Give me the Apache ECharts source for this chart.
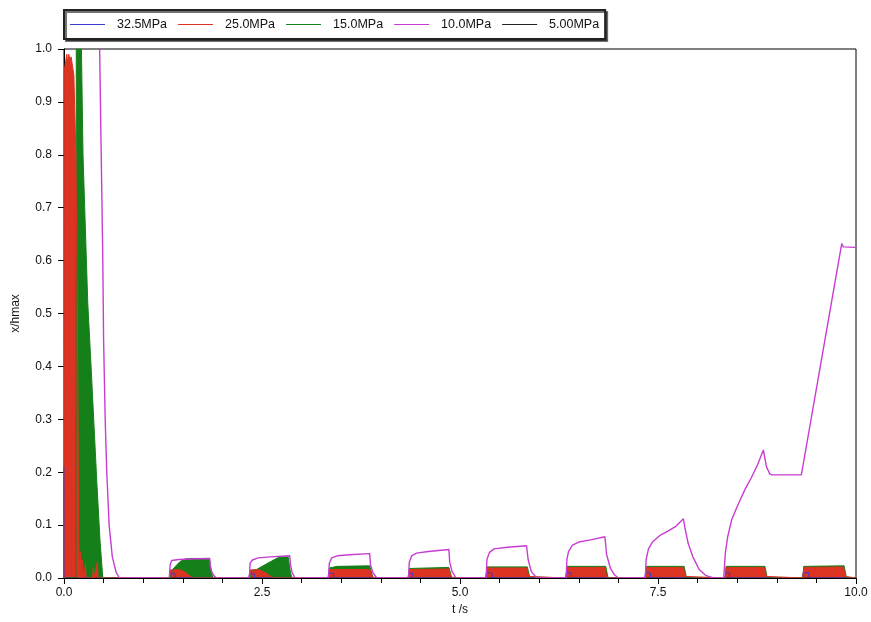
<!DOCTYPE html>
<html><head><meta charset="utf-8">
<script src="https://cdn.jsdelivr.net/npm/echarts@6/dist/echarts.min.js"></script>
<style>html,body{margin:0;padding:0;background:#fff}#c{width:871px;height:622px}</style>
</head><body><div id="c"></div>
<script>
// ---- data (t in s, value x/hmax) ----
const seriesNames = ['32.5MPa', '25.0MPa', '15.0MPa', '10.0MPa', '5.00MPa'];
const xLabelValues = [0, 2.5, 5, 7.5, 10];
const yLabelValues = [0, 0.1, 0.2, 0.3, 0.4, 0.5, 0.6, 0.7, 0.8, 0.9, 1.0];

const p325 = [
  [0, 0], [0.0015, 0.21], [0.003, 0],
  [1.328, 0], [1.336, 0.008], [1.4, 0.008], [1.41, 0],
  [2.332, 0], [2.342, 0.008], [2.4, 0.008], [2.41, 0],
  [3.332, 0], [3.342, 0.009], [3.4, 0.009], [3.41, 0],
  [4.342, 0], [4.352, 0.009], [4.4, 0.009], [4.41, 0],
  [5.322, 0], [5.332, 0.01], [5.4, 0.01], [5.41, 0],
  [6.332, 0], [6.342, 0.01], [6.4, 0.01], [6.41, 0],
  [7.332, 0], [7.342, 0.01], [7.4, 0.01], [7.41, 0],
  [8.342, 0], [8.352, 0.01], [8.4, 0.01], [8.41, 0],
  [9.322, 0], [9.332, 0.01], [9.4, 0.01], [9.41, 0], [10, 0]
];

const p25 = [
  [0, 0], [0.003, 0.96], [0.02, 0.975], [0.035, 0.99], [0.045, 0.975], [0.06, 0.99],
  [0.075, 0.98], [0.09, 0.985], [0.105, 0.97], [0.125, 0.95], [0.15, 0.8],
  [0.168, 0.52], [0.185, 0.09], [0.192, 0],
  [0.2, 0], [0.205, 0.05], [0.215, 0], [0.23, 0.035], [0.24, 0], [0.27, 0.025], [0.28, 0],
  [0.36, 0], [0.37, 0.02], [0.38, 0], [0.42, 0.03], [0.43, 0],
  [1.33, 0], [1.34, 0.015], [1.45, 0.016], [1.52, 0.012], [1.58, 0.005], [1.62, 0],
  [2.34, 0], [2.35, 0.015], [2.45, 0.016], [2.52, 0.012], [2.6, 0.004], [2.64, 0],
  [3.34, 0], [3.35, 0.016], [3.86, 0.016], [3.88, 0.008], [3.9, 0],
  [4.35, 0], [4.36, 0.016], [4.86, 0.017], [4.88, 0.005], [4.9, 0],
  [5.33, 0], [5.34, 0.019], [5.84, 0.019], [5.87, 0.003], [5.88, 0],
  [6.34, 0], [6.35, 0.02], [6.83, 0.02], [6.85, 0.004], [6.86, 0],
  [7.34, 0], [7.35, 0.02], [7.82, 0.02], [7.85, 0.003], [7.86, 0],
  [8.35, 0], [8.36, 0.02], [8.84, 0.02], [8.87, 0.003], [8.88, 0],
  [9.33, 0], [9.34, 0.02], [9.84, 0.021], [9.87, 0.003], [9.88, 0], [10, 0]
];

const p15 = [
  [0, 0], [0.15, 0], [0.155, 1.0], [0.22, 1.0], [0.24, 0.8], [0.27, 0.66], [0.3, 0.52],
  [0.335, 0.42], [0.375, 0.3], [0.415, 0.18], [0.455, 0.07], [0.49, 0],
  [1.34, 0], [1.37, 0.016], [1.42, 0.024], [1.465, 0.031], [1.53, 0.036], [1.6, 0.037],
  [1.835, 0.037], [1.865, 0.009], [1.88, 0],
  [2.35, 0], [2.37, 0.014], [2.43, 0.016], [2.56, 0.027], [2.71, 0.039], [2.83, 0.04],
  [2.86, 0.01], [2.88, 0],
  [3.34, 0], [3.35, 0.019], [3.45, 0.022], [3.86, 0.023], [3.89, 0.006], [3.91, 0],
  [4.35, 0], [4.36, 0.018], [4.86, 0.02], [4.89, 0.004], [4.91, 0],
  [5.33, 0], [5.34, 0.021], [5.85, 0.021], [5.88, 0.002], [5.89, 0],
  [6.34, 0], [6.35, 0.022], [6.84, 0.022], [6.87, 0],
  [7.34, 0], [7.35, 0.022], [7.83, 0.022], [7.86, 0],
  [8.35, 0], [8.36, 0.022], [8.85, 0.022], [8.88, 0],
  [9.33, 0], [9.34, 0.022], [9.85, 0.023], [9.88, 0], [10, 0]
];

const p10 = [
  [0.448, 1.02], [0.45, 1.0], [0.47, 0.8], [0.49, 0.6], [0.5, 0.45], [0.52, 0.3],
  [0.54, 0.2], [0.57, 0.1], [0.61, 0.04], [0.66, 0.01], [0.7, 0],
  [1.33, 0], [1.34, 0.025], [1.36, 0.033], [1.45, 0.035], [1.6, 0.036], [1.84, 0.037],
  [1.85, 0.02], [1.87, 0.01], [1.9, 0.003], [1.93, 0],
  [2.34, 0], [2.35, 0.028], [2.38, 0.034], [2.45, 0.038], [2.6, 0.04], [2.85, 0.042],
  [2.86, 0.025], [2.88, 0.01], [2.92, 0],
  [3.34, 0], [3.35, 0.028], [3.38, 0.038], [3.45, 0.042], [3.6, 0.044], [3.86, 0.046],
  [3.87, 0.025], [3.9, 0.01], [3.95, 0],
  [4.35, 0], [4.36, 0.03], [4.39, 0.042], [4.45, 0.047], [4.6, 0.05], [4.86, 0.054],
  [4.87, 0.03], [4.9, 0.012], [4.95, 0],
  [5.33, 0], [5.34, 0.035], [5.37, 0.048], [5.43, 0.055], [5.6, 0.058], [5.84, 0.061],
  [5.86, 0.035], [5.9, 0.012], [5.97, 0],
  [6.34, 0], [6.35, 0.035], [6.37, 0.05], [6.42, 0.062], [6.5, 0.068], [6.65, 0.072],
  [6.83, 0.078], [6.85, 0.045], [6.9, 0.018], [6.95, 0.006], [7.0, 0],
  [7.34, 0], [7.35, 0.035], [7.38, 0.055], [7.43, 0.068], [7.52, 0.08], [7.62, 0.088],
  [7.72, 0.097], [7.82, 0.112], [7.84, 0.095], [7.88, 0.066], [7.94, 0.04], [8.02, 0.016],
  [8.1, 0.005], [8.2, 0],
  [8.33, 0], [8.35, 0.047], [8.38, 0.078], [8.43, 0.11], [8.5, 0.135], [8.6, 0.168],
  [8.68, 0.19], [8.76, 0.215], [8.83, 0.242], [8.87, 0.21], [8.91, 0.197], [8.94, 0.195],
  [9.31, 0.195], [9.82, 0.632], [9.84, 0.626], [10, 0.625]
];

const p5 = [[0, 0], [10, 0]];

const seriesData = [p325, p25, p15, p10, p5];
const seriesColors = ['#3a3ad0', '#dd3322', '#15801a', '#c83cd2', '#222222'];
const filled = [false, true, true, false, false];
const lineWidths = [1, 1, 1, 1.4, 1];
const drawOrder = [4, 0, 2, 1, 3];

const chart = echarts.init(document.getElementById('c'), null, { renderer: 'canvas' });
const font = 'Liberation Sans, Arial, sans-serif';

const series = drawOrder.map(i => ({
  name: seriesNames[i],
  type: 'line',
  data: seriesData[i],
  symbol: 'none',
  animation: false,
  clip: true,
  lineStyle: { color: seriesColors[i], width: lineWidths[i] },
  itemStyle: { color: seriesColors[i] },
  areaStyle: filled[i] ? { color: seriesColors[i], opacity: 1 } : undefined
}));

chart.setOption({
  animation: false,
  backgroundColor: '#fff',
  textStyle: { fontFamily: font },
  grid: { left: 64, right: 15, top: 49, bottom: 44, show: true, borderColor: '#000', borderWidth: 1, backgroundColor: 'transparent' },
  legend: {
    data: seriesNames,
    left: 64, top: 10,
    padding: [8, 6, 8, 6],
    icon: 'rect',
    itemWidth: 35, itemHeight: 1,
    itemGap: 11,
    borderColor: '#222', borderWidth: 2,
    backgroundColor: '#fff',
    shadowColor: 'rgba(0,0,0,0.55)', shadowOffsetX: 2, shadowOffsetY: 2, shadowBlur: 0,
    textStyle: { fontSize: 12.5, color: '#111', fontFamily: font, padding: [0, 0, 0, 7] }
  },
  xAxis: {
    type: 'value', min: 0, max: 10, interval: 2.5, z: 10,
    name: 't /s', nameLocation: 'middle', nameGap: 24,
    nameTextStyle: { fontSize: 12, color: '#111', fontFamily: font },
    axisLine: { lineStyle: { color: '#000', width: 1 } },
    axisTick: { length: 6, lineStyle: { color: '#000' } },
    minorTick: { show: true, splitNumber: 5, length: 5, lineStyle: { color: '#000' } },
    axisLabel: { fontSize: 12, color: '#111', margin: 9, formatter: v => xLabelValues.includes(v) ? v.toFixed(1) : '' },
    splitLine: { show: false }
  },
  yAxis: {
    type: 'value', min: 0, max: 1, interval: 0.1,
    name: 'x/hmax', nameLocation: 'middle', nameGap: 42, nameRotate: 90,
    nameTextStyle: { fontSize: 12, color: '#111', fontFamily: font },
    axisLine: { show: true, lineStyle: { color: '#000', width: 1 } },
    axisTick: { show: true, length: 6, lineStyle: { color: '#000' } },
    axisLabel: { fontSize: 12, color: '#111', margin: 12, formatter: v => v.toFixed(1) },
    splitLine: { show: false }
  },
  series: series
});
</script>
</body></html>
